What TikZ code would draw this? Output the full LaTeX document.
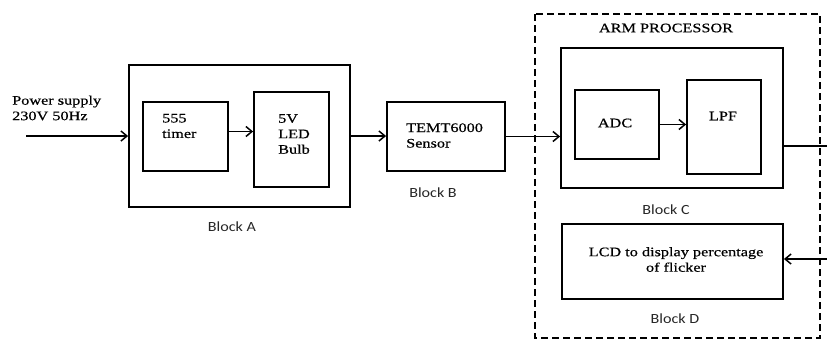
\documentclass[tikz,border=0pt]{standalone}
\usepackage{fontspec}
\setmainfont[FakeStretch=1.25,FakeBold=0.5]{Liberation Serif}
\newfontfamily\blockfont[FakeStretch=1.15]{Carlito}
\usetikzlibrary{arrows.meta}

\tikzset{
  blockbox/.style={draw, line width=1.8pt, inner sep=0pt},
  boxtext/.style={font=\fontsize{13}{15.5}\selectfont, align=left, inner sep=0pt},
  blocklabel/.style={font=\blockfont\fontsize{14}{16}\selectfont, inner sep=0pt, text=black!85},
  sig/.style={line width=1.5pt, -{Straight Barb[length=6pt,width=10pt,line width=1.5pt]}}
}

\begin{document}
\begin{tikzpicture}[x=1pt,y=-1pt]
\useasboundingbox (0,0) rectangle (827,341);

% Block A
\node[blockbox, minimum width=221pt, minimum height=142pt] (blockA) at (239.5,136) {};
\node[blockbox, minimum width=85pt, minimum height=69pt] (timer) at (185.5,136.5) {};
\node[blockbox, minimum width=75pt, minimum height=95pt] (led) at (291.5,139.5) {};
\node[boxtext, anchor=west] (timertxt) at (162,126) {555\\timer};
\node[boxtext, anchor=west] (ledtxt) at (278,134) {5V\\LED\\Bulb};
\node[blocklabel] (labelA) at (232,227) {Block A};

% Power supply input
\node[boxtext, anchor=west] (power) at (12,108) {Power supply\\230V 50Hz};
\coordinate (pwrin) at (26,136);

% Block B
\node[blockbox, minimum width=118pt, minimum height=69pt] (sensor) at (446,136.5) {};
\node[boxtext, anchor=west] (sensortxt) at (406,135.5) {TEMT6000\\Sensor};
\node[blocklabel] (labelB) at (433,193) {Block B};

% ARM processor
\draw[line width=1.8pt, dash pattern=on 7pt off 4pt] (535,14) rectangle (820,338);
\node[boxtext] (arm) at (666,28) {ARM PROCESSOR};

% Block C
\node[blockbox, minimum width=222pt, minimum height=140pt] (blockC) at (672,118) {};
\node[blockbox, minimum width=84pt, minimum height=69pt] (adc) at (617,124.5) {};
\node[blockbox, minimum width=74pt, minimum height=94pt] (lpf) at (724,127) {};
\node[boxtext] (adctxt) at (615,123) {ADC};
\node[boxtext] (lpftxt) at (723,116) {LPF};
\node[blocklabel] (labelC) at (666,210) {Block C};

% Block D
\node[blockbox, minimum width=221pt, minimum height=75pt] (lcd) at (672.5,261.5) {};
\node[boxtext, align=center] (lcdtxt) at (676,259.5) {LCD to display percentage\\of flicker};
\node[blocklabel] (labelD) at (675,319) {Block D};

% Connections
\coordinate (outC) at (827,146);
\coordinate (inD) at (827,259);
\draw[sig] (pwrin) -- (pwrin -| blockA.west);
\draw[sig] ([yshift=5pt]timer.east) -- ([yshift=5pt]timer.east -| led.west);
\draw[sig] (blockA.east) -- (blockA.east -| sensor.west);
\draw[sig] (sensor.east) -- (sensor.east -| blockC.west);
\draw[sig] (adc.east) -- (adc.east -| lpf.west);
\draw[line width=1.5pt] (outC -| blockC.east) -- (outC);
\draw[sig] (inD) -- (inD -| lcd.east);
\end{tikzpicture}
\end{document}
